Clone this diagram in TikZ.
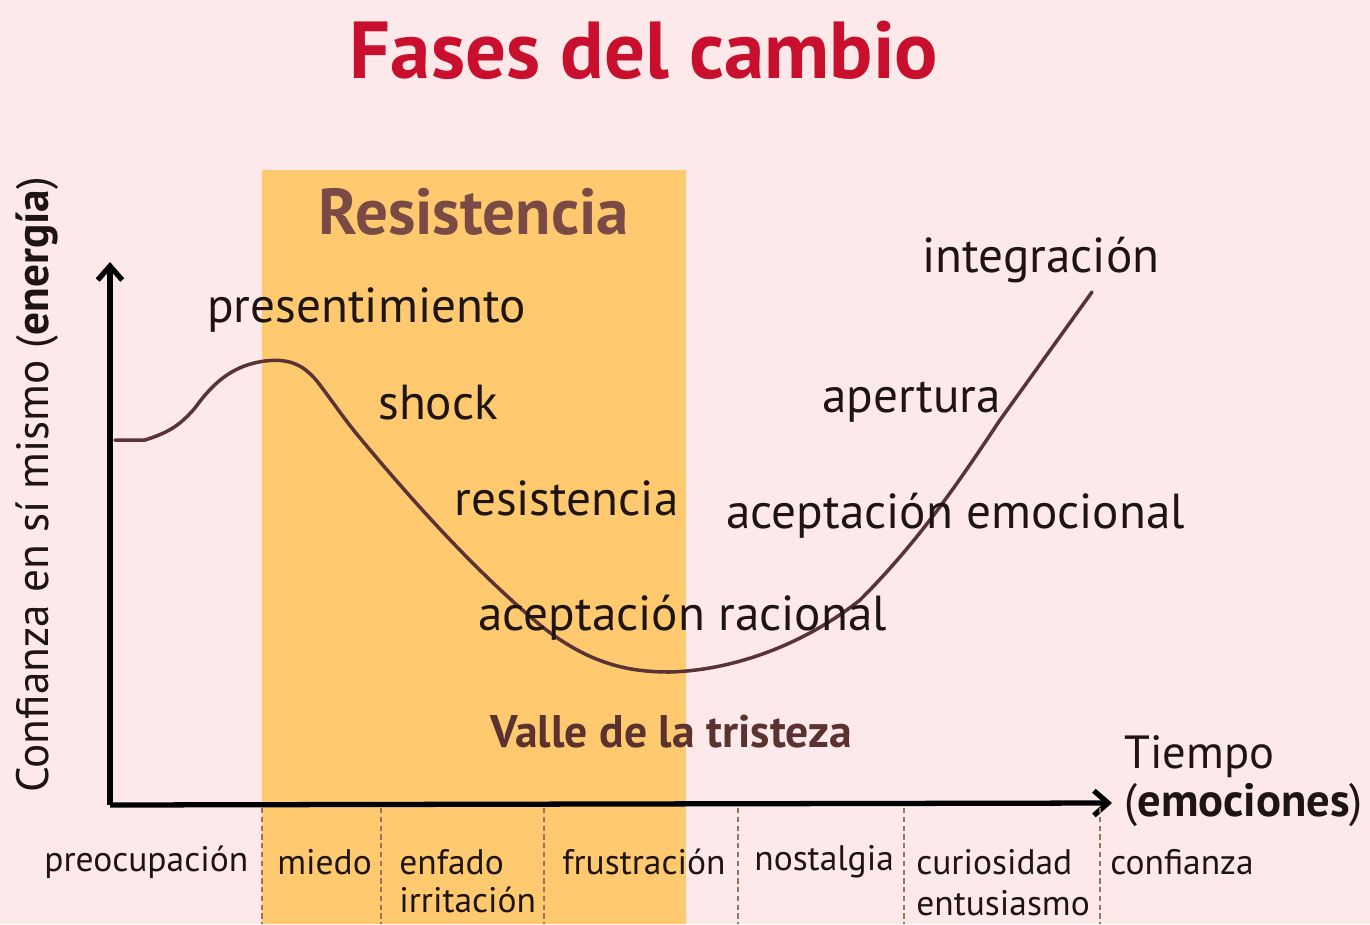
\documentclass[tikz,border=0pt]{standalone}
\usepackage{fontspec}
\setmainfont{PT Sans}
\usetikzlibrary{arrows.meta}
\definecolor{bgpink}{HTML}{FDE9E9}
\definecolor{bandor}{HTML}{FFC970}
\definecolor{titred}{HTML}{C8102E}
\definecolor{brownA}{HTML}{7A4A44}
\definecolor{brownB}{HTML}{5A3230}
\definecolor{curvec}{HTML}{5A3434}
\definecolor{txt}{HTML}{1E1414}
\definecolor{dashc}{HTML}{A0705A}
\tikzset{
  lbl/.style={anchor=west, inner sep=0pt, text=txt, font=\fontsize{28}{32}\selectfont},
  axlbl/.style={anchor=west, inner sep=0pt, text=txt, font=\fontsize{26.5}{30}\selectfont},
  small/.style={anchor=west, inner sep=0pt, text=txt, font=\fontsize{20.2}{24}\selectfont},
  axisline/.style={line width=3pt, black, -{Straight Barb[length=8pt,width=14pt,line width=3pt]}},
  sep/.style={dashc, line width=0.8pt, dash pattern=on 3pt off 2pt},
}
\begin{document}
\begin{tikzpicture}[x=0.02cm,y=-0.02cm]
\useasboundingbox (0,0) rectangle (1370,924);
\fill[bgpink] (0,0) rectangle (1370,924);
\fill[bandor] (262,170) rectangle (686,924);

% title
\node[inner sep=0pt, text=titred, font=\fontsize{46}{52}\selectfont\bfseries] (title) at (644,50) {Fases del cambio};
\node[inner sep=0pt, text=brownA, font=\fontsize{37}{42}\selectfont\bfseries] (res) at (474,212) {Resistencia};

% axes
\coordinate (o) at (110,805);
\coordinate (ytop) at (110,262);
\coordinate (xend) at (1112,803);
\draw[axisline] (o) -- (ytop);
\draw[axisline] (o) -- (xend);

% separators
\foreach \xx/\nm in {262/a,381/b,544/c,738/d,904/e,1100/f}{
  \coordinate (s\nm) at (\xx,808);
  \coordinate (t\nm) at (\xx,924);
  \draw[sep] (s\nm) -- (t\nm);
}

% curve
\coordinate (c0) at (115,440);
\draw[curvec, line width=2pt, line cap=round, line join=round]
  (c0) -- (145,440)
  .. controls (170,432) and (180,425) .. (195,408)
  .. controls (215,380) and (235,365) .. (265,361)
  .. controls (290,358) and (305,365) .. (320,385)
  .. controls (335,405) and (345,420) .. (360,438)
  .. controls (420,510) and (480,575) .. (540,625)
  .. controls (590,665) and (630,672) .. (670,672)
  .. controls (740,670) and (810,640) .. (860,600)
  .. controls (920,540) and (960,480) .. (1000,420)
  -- (1092,292);

% curve labels
\node[lbl] (pres) at (207,310) {presentimiento};
\node[lbl] (shock) at (378,403) {shock};
\node[lbl] (resis) at (454,498) {resistencia};
\node[lbl] (acra) at (478,618) {aceptación racional};
\node[lbl] (integ) at (922,260) {integración};
\node[lbl] (apert) at (822,402) {apertura};
\node[lbl] (acem) at (726,516) {aceptación emocional};
\node[inner sep=0pt, anchor=west, text=brownB, font=\fontsize{26}{30}\selectfont\bfseries] (valle) at (490,732) {Valle de la tristeza};

% axis labels
\node[axlbl] (tiempo) at (1124,757) {Tiempo};
\node[axlbl] (emoc) at (1124,805) {(\textbf{emociones})};
\node[anchor=center, inner sep=0pt, text=txt, font=\fontsize{25.8}{30}\selectfont, rotate=90] (conf) at (37,485) {Confianza en sí mismo (\textbf{energía})};

% bottom labels
\node[small] (b1) at (44,862) {preocupación};
\node[small] (b2) at (277,862) {miedo};
\node[small] (b3) at (399,862) {enfado};
\node[small] (b3b) at (399,900) {irritación};
\node[small] (b4) at (562,862) {frustración};
\node[small] (b5) at (754,862) {nostalgia};
\node[small] (b6) at (916,862) {curiosidad};
\node[small] (b6b) at (916,903) {entusiasmo};
\node[small] (b7) at (1110,862) {confianza};
\end{tikzpicture}
\end{document}
